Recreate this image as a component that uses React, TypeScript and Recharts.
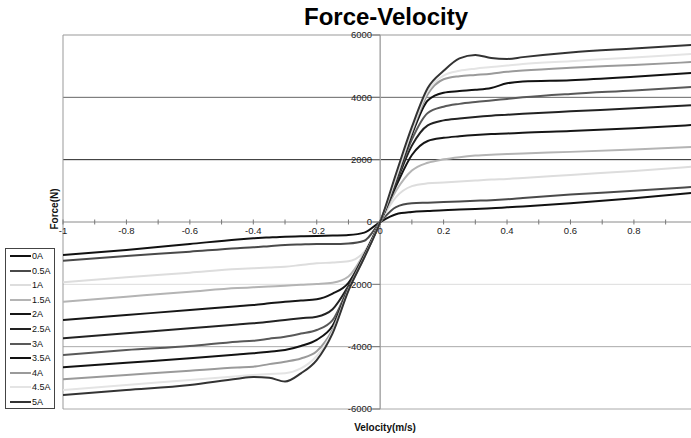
import { LineChart, Line, XAxis, YAxis, ReferenceLine, ReferenceDot } from "recharts";

const VELOCITY = [-1, -0.8, -0.6, -0.45, -0.4, -0.35, -0.3, -0.25, -0.2, -0.15, -0.1, -0.05, 0, 0.05, 0.1, 0.15, 0.2, 0.25, 0.3, 0.35, 0.4, 0.45, 0.6, 0.8, 0.98];

const F_0A = [-1059, -898, -706, -560, -524, -495, -470, -460, -449, -435, -417, -340, 0, 250, 320, 350, 380, 400, 420, 440, 470, 500, 600, 760, 930];
const F_05A = [-1242, -1091, -952, -840, -813, -775, -738, -720, -706, -706, -690, -600, 0, 480, 600, 620, 640, 660, 680, 700, 730, 770, 880, 1000, 1120];
const F_1A = [-1935, -1775, -1626, -1510, -1486, -1460, -1434, -1380, -1327, -1300, -1260, -950, 0, 800, 1150, 1240, 1270, 1300, 1330, 1360, 1380, 1410, 1510, 1640, 1770];
const F_15A = [-2557, -2396, -2236, -2120, -2097, -2070, -2043, -2015, -1990, -1950, -1750, -1000, 0, 1000, 1650, 1900, 2010, 2080, 2130, 2160, 2180, 2200, 2250, 2330, 2410];
const F_2A = [-3145, -2984, -2824, -2700, -2663, -2610, -2557, -2520, -2482, -2300, -1950, -1050, 0, 1150, 2150, 2600, 2700, 2750, 2790, 2820, 2840, 2865, 2920, 3010, 3110];
const F_25A = [-3733, -3572, -3412, -3290, -3251, -3200, -3145, -3090, -3038, -2800, -2050, -1080, 0, 1250, 2450, 3100, 3260, 3320, 3370, 3410, 3440, 3470, 3550, 3650, 3750];
const F_3A = [-4268, -4108, -3979, -3840, -3809, -3745, -3680, -3580, -3466, -3150, -2100, -1100, 0, 1300, 2650, 3500, 3700, 3790, 3850, 3900, 3950, 4000, 4110, 4220, 4330];
const F_35A = [-4663, -4514, -4375, -4250, -4214, -4160, -4107, -3979, -3780, -3330, -2150, -1110, 0, 1350, 2800, 3900, 4150, 4200, 4240, 4300, 4450, 4510, 4550, 4660, 4780];
const F_4A = [-5049, -4910, -4771, -4670, -4643, -4560, -4482, -4380, -4150, -3450, -2170, -1120, 0, 1400, 2900, 4100, 4580, 4680, 4720, 4760, 4820, 4860, 4950, 5040, 5130];
const F_45A = [-5391, -5231, -5070, -4950, -4910, -4880, -4856, -4700, -4300, -3520, -2190, -1130, 0, 1450, 2950, 4200, 4700, 4850, 4920, 4970, 5020, 5070, 5160, 5280, 5390];
const F_5A = [-5552, -5391, -5231, -5030, -4975, -5000, -5120, -4856, -4428, -3572, -2200, -1140, 0, 1550, 3050, 4300, 4850, 5250, 5360, 5260, 5230, 5290, 5440, 5570, 5680];

const SERIES_NAMES = ["0A", "0.5A", "1A", "1.5A", "2A", "2.5A", "3A", "3.5A", "4A", "4.5A", "5A"];
const SERIES_VALUES = [F_0A, F_05A, F_1A, F_15A, F_2A, F_25A, F_3A, F_35A, F_4A, F_45A, F_5A];
const SERIES_COLORS = ["#111111", "#4a4a4a", "#dddddd", "#b4b4b4", "#161616", "#222222", "#595959", "#121212", "#9a9a9a", "#e4e4e4", "#333333"];

const X_LABELS = [-1, -0.8, -0.6, -0.4, -0.2, 0, 0.2, 0.4, 0.6, 0.8];
const X_MINOR = [-1, -0.9, -0.8, -0.7, -0.6, -0.5, -0.4, -0.3, -0.2, -0.1, 0, 0.1, 0.2, 0.3, 0.4, 0.5, 0.6, 0.7, 0.8, 0.9];
const Y_LABELS = [6000, 4000, 2000, 0, -2000, -4000, -6000];

const GRID = [
  { y: 6000, color: "#999999" },
  { y: 4000, color: "#666666" },
  { y: 2000, color: "#222222" },
  { y: -2000, color: "#dddddd" },
  { y: -4000, color: "#aaaaaa" },
  { y: -6000, color: "#aaaaaa" },
];

const data = VELOCITY.map((v, i) => {
  const row: Record<string, number> = { v };
  SERIES_VALUES.forEach((s, k) => {
    row["s" + k] = s[i];
  });
  return row;
});

const FONT = "'Liberation Sans', Arial, sans-serif";

export default function App() {
  return (
    <div style={{ position: "absolute", left: 0, top: 0, width: 691, height: 438, background: "#fff", fontFamily: FONT }}>
      <LineChart width={691} height={438} data={data} margin={{ top: 35, right: 0, bottom: 29, left: 63 }}>
        <XAxis type="number" dataKey="v" domain={[-1, 0.98]} hide allowDataOverflow />
        <YAxis type="number" domain={[-6000, 6000]} hide allowDataOverflow />
        {GRID.map((g) => (
          <ReferenceLine key={"g" + g.y} y={g.y} stroke={g.color} strokeWidth={1} />
        ))}
        <ReferenceLine x={-1} stroke="#999999" />
        <ReferenceLine y={0} stroke="#8a8a8a" />
        <ReferenceLine x={0} stroke="#a8a8a8" strokeWidth={1.5} />
        {X_MINOR.map((t) => (
          <ReferenceLine
            key={"xt" + t}
            segment={[{ x: t, y: -80 }, { x: t, y: 80 }]}
            stroke="#777777"
          />
        ))}
        {Y_LABELS.map((t) => (
          <ReferenceLine
            key={"yt" + t}
            segment={[{ x: -0.025, y: t }, { x: 0, y: t }]}
            stroke="#777777"
          />
        ))}
        {X_LABELS.map((t) => (
          <ReferenceDot
            key={"xl" + t}
            x={t}
            y={0}
            r={0}
            stroke="none"
            fill="none"
            label={{ value: String(t), position: "bottom", offset: 5, fontSize: 9.5, fill: "#222" }}
          />
        ))}
        {Y_LABELS.map((t) => (
          <ReferenceDot
            key={"yl" + t}
            x={0}
            y={t}
            r={0}
            stroke="none"
            fill="none"
            label={{ value: String(t), position: "left", offset: 8, fontSize: 9.5, fill: "#222" }}
          />
        ))}
        {SERIES_NAMES.map((name, k) => (
          <Line
            key={name}
            name={name}
            type="monotone"
            dataKey={"s" + k}
            stroke={SERIES_COLORS[k]}
            strokeWidth={2}
            dot={false}
            isAnimationActive={false}
          />
        ))}
      </LineChart>

      <svg width={691} height={438} style={{ position: "absolute", left: 0, top: 0, pointerEvents: "none" }}>
        <text x={386} y={24.5} textAnchor="middle" fontSize={24} fontWeight="bold" fill="#000">
          Force-Velocity
        </text>
        <text x={385} y={431} textAnchor="middle" fontSize={10} fontWeight="bold" fill="#111">
          Velocity(m/s)
        </text>
        <text x={58} y={209} textAnchor="middle" fontSize={10} fontWeight="bold" fill="#111" transform="rotate(-90 58 209)">
          Force(N)
        </text>
      </svg>

      <div
        style={{
          position: "absolute",
          left: 5,
          top: 248,
          width: 48,
          height: 159,
          border: "1px solid #444",
          background: "#fff",
          boxSizing: "content-box",
        }}
      >
        {SERIES_NAMES.map((name, k) => (
          <div key={name} style={{ position: "absolute", left: 0, top: 1 + k * 14.6, height: 12, display: "flex", alignItems: "center" }}>
            <div style={{ marginLeft: 4, width: 21, height: 0, borderTop: `2px solid ${SERIES_COLORS[k]}` }} />
            <span style={{ marginLeft: 1, fontSize: 9, color: "#111", lineHeight: "12px" }}>{name}</span>
          </div>
        ))}
      </div>
    </div>
  );
}
